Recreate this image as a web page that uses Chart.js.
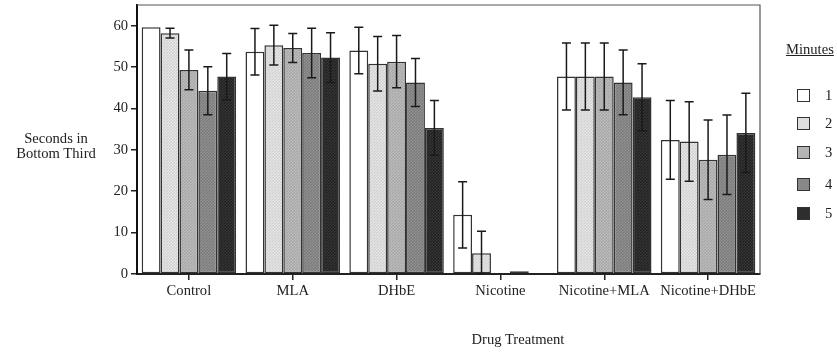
<!DOCTYPE html>
<html>
<head>
<meta charset="utf-8">
<script src="https://cdn.jsdelivr.net/npm/chart.js@4/dist/chart.umd.min.js"></script>
<style>
  html, body { margin: 0; padding: 0; background: #fff; }
  #wrap { position: relative; width: 837px; height: 353px; font-family: "Liberation Serif", "DejaVu Serif", serif; color: #222; }
  #c { position: absolute; left: 0; top: 0; }
  .txt { position: absolute; font-size: 14.6px; line-height: 15px; white-space: nowrap; }
  #ytitle { left: 16px; top: 131px; width: 80px; text-align: center; }
  #xtitle { left: 418px; top: 332px; width: 200px; text-align: center; }
  #legTitle { left: 786px; top: 42px; text-decoration: underline; }
  .legRow { position: absolute; left: 797px; height: 14px; font-size: 14.6px; line-height: 14px; }
  .legBox { position: absolute; left: 0; top: 0; width: 11px; height: 11px; border: 1.5px solid #333; }
  .legLab { position: absolute; left: 28px; top: -1px; }
</style>
</head>
<body>
<div id="wrap">
  <canvas id="c" width="837" height="353"></canvas>
  <div class="txt" id="ytitle">Seconds in<br>Bottom Third</div>
  <div class="txt" id="xtitle">Drug Treatment</div>
  <div class="txt" id="legTitle">Minutes</div>
  <div id="legend"></div>
</div>
<script>
// ---- data ----
const categories = ["Control", "MLA", "DHbE", "Nicotine", "Nicotine+MLA", "Nicotine+DHbE"];
const seriesNames = ["1", "2", "3", "4", "5"];
const minute1 = [59.6, 53.7, 54.0, 14.3, 47.7, 32.4];
const minute2 = [58.2, 55.3, 50.8, 5.0, 47.7, 32.0];
const minute3 = [49.3, 54.6, 51.3, 0.2, 47.7, 27.6];
const minute4 = [44.3, 53.4, 46.3, 0.65, 46.3, 28.8];
const minute5 = [47.7, 52.3, 35.3, 0.2, 42.7, 34.1];
const err1 = [0, 5.6, 5.6, 8.0, 8.1, 9.5];
const err2 = [1.2, 4.8, 6.6, 5.3, 8.1, 9.6];
const err3 = [4.8, 3.5, 6.3, 0, 8.1, 9.6];
const err4 = [5.8, 6.0, 5.8, 0, 7.8, 9.6];
const err5 = [5.6, 6.0, 6.6, 0, 8.1, 9.6];
const yTicks = [0, 10, 20, 30, 40, 50, 60];

const values = [minute1, minute2, minute3, minute4, minute5];
const errors = [err1, err2, err3, err4, err5];
const fills = ["#ffffff", "#dedede", "#b4b4b4", "#888888", "#2e2e2e"];

function shade(hex, d) {
  const n = parseInt(hex.slice(1), 16);
  const c = v => Math.max(0, Math.min(255, v + d));
  return "rgb(" + c(n >> 16) + "," + c((n >> 8) & 255) + "," + c(n & 255) + ")";
}
function makePattern(hex, i) {
  if (i === 0) return hex;
  const p = document.createElement("canvas");
  p.width = 3; p.height = 3;
  const g = p.getContext("2d");
  g.fillStyle = hex; g.fillRect(0, 0, 3, 3);
  g.fillStyle = shade(hex, -14);
  g.fillRect(0, 0, 1, 1); g.fillRect(2, 1, 1, 1); g.fillRect(1, 2, 1, 1);
  g.fillStyle = shade(hex, 10);
  g.fillRect(1, 0, 1, 1); g.fillRect(0, 2, 1, 1);
  return g.createPattern(p, "repeat");
}

const datasets = values.map((v, i) => ({
  label: seriesNames[i],
  data: v,
  errors: errors[i],
  backgroundColor: makePattern(fills[i], i),
  borderColor: "#333333",
  borderWidth: 1.5,
  borderSkipped: false,
  barPercentage: 1.0,
  categoryPercentage: 0.91
}));

// HTML legend
const leg = document.getElementById("legend");
const rowTops = [89, 117, 146, 178, 207];
seriesNames.forEach((n, i) => {
  const r = document.createElement("div");
  r.className = "legRow";
  r.style.top = rowTops[i] + "px";
  r.innerHTML = '<div class="legBox" style="background:' + fills[i] + '"></div><div class="legLab">' + n + '</div>';
  leg.appendChild(r);
});

const errorBars = {
  id: "errorBars",
  afterDatasetsDraw(chart) {
    const ctx = chart.ctx;
    const ys = chart.scales.y;
    ctx.save();
    ctx.strokeStyle = "#1a1a1a";
    ctx.lineWidth = 1.5;
    chart.data.datasets.forEach((ds, i) => {
      const meta = chart.getDatasetMeta(i);
      meta.data.forEach((bar, j) => {
        const e = ds.errors[j];
        if (!e) return;
        const v = ds.data[j];
        const yt = ys.getPixelForValue(v + e);
        const yb = ys.getPixelForValue(Math.max(0, v - e));
        const x = bar.x;
        ctx.beginPath();
        ctx.moveTo(x, yt); ctx.lineTo(x, yb);
        ctx.moveTo(x - 4.5, yt); ctx.lineTo(x + 4.5, yt);
        ctx.moveTo(x - 4.5, yb); ctx.lineTo(x + 4.5, yb);
        ctx.stroke();
      });
    });
    ctx.restore();
  }
};

const frame = {
  id: "frame",
  afterDraw(chart) {
    const a = chart.chartArea;
    const ctx = chart.ctx;
    ctx.save();
    ctx.strokeStyle = "#555";
    ctx.lineWidth = 1.2;
    ctx.beginPath();
    ctx.moveTo(a.left, a.top); ctx.lineTo(a.right, a.top); ctx.lineTo(a.right, a.bottom);
    ctx.stroke();
    ctx.restore();
  }
};

new Chart(document.getElementById("c"), {
  type: "bar",
  data: { labels: categories, datasets },
  options: {
    responsive: false,
    animation: false,
    layout: { padding: { left: 0, right: 77, top: 5, bottom: 0 } },
    plugins: { legend: { display: false }, tooltip: { enabled: false } },
    scales: {
      x: {
        grid: { display: true, drawOnChartArea: false, offset: false, tickLength: 6, color: "#222", lineWidth: 1.5 },
        border: { display: true, color: "#222", width: 2 },
        ticks: { color: "#222", font: { family: "Liberation Serif", size: 14.6 }, padding: 2, maxRotation: 0, autoSkip: false },
        afterFit(s) { s.height = 79; s.paddingLeft = 0; s.paddingRight = 0; }
      },
      y: {
        min: 0, max: 65,
        afterBuildTicks(s) { s.ticks = yTicks.map(v => ({ value: v })); },
        grid: { display: true, drawOnChartArea: false, tickLength: 6, color: "#222", lineWidth: 1.5 },
        border: { display: true, color: "#111", width: 2 },
        ticks: { color: "#222", font: { family: "Liberation Serif", size: 14.6 }, padding: 3 },
        afterFit(s) { s.width = 137; s.paddingTop = 0; s.paddingBottom = 0; }
      }
    }
  },
  plugins: [errorBars, frame]
});
</script>
</body>
</html>
